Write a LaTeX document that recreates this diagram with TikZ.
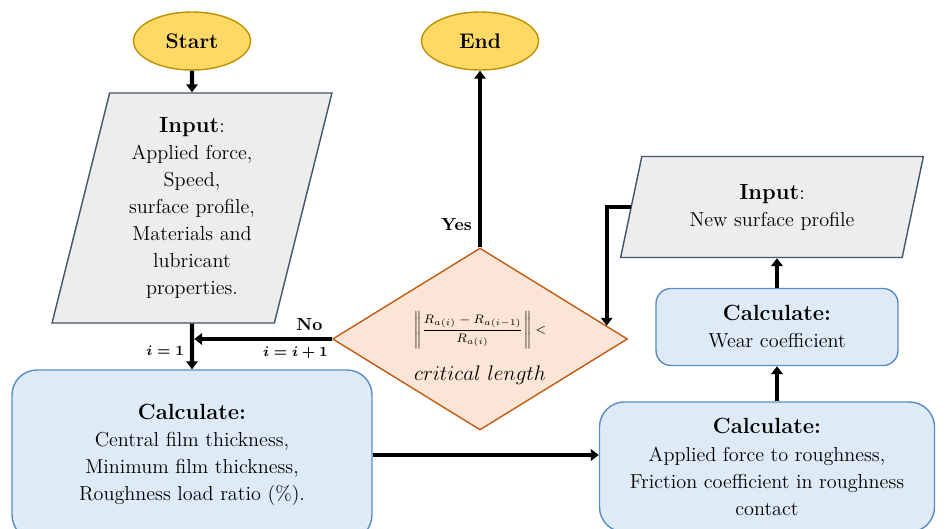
\documentclass[tikz,border=0pt]{standalone}
\usepackage{amsmath}
\usepackage{tikz}
\usetikzlibrary{shapes.geometric, arrows.meta}

\definecolor{termfill}{RGB}{255,217,102}
\definecolor{termline}{RGB}{191,144,0}
\definecolor{iofill}{RGB}{237,237,237}
\definecolor{ioline}{RGB}{68,84,106}
\definecolor{decfill}{RGB}{251,229,214}
\definecolor{decline}{RGB}{197,90,17}
\definecolor{procfill}{RGB}{222,235,247}
\definecolor{procline}{RGB}{91,140,200}

\newcommand{\boxtitle}[1]{{\fontsize{12.5}{15}\selectfont\bfseries #1}}

\tikzstyle{terminal} = [ellipse, draw=termline, fill=termfill, line width=0.8pt, minimum width=2.34cm, minimum height=1.16cm, font=\bfseries\fontsize{12}{14}\selectfont]
\tikzstyle{io} = [trapezium, trapezium left angle=76, trapezium right angle=104, trapezium stretches=true, draw=ioline, fill=iofill, line width=0.8pt, align=center, font=\fontsize{11.5}{15.4}\selectfont]
\tikzstyle{process} = [rectangle, rounded corners=0.5cm, draw=procline, fill=procfill, line width=0.8pt, align=center, font=\fontsize{11.5}{15.4}\selectfont]
\tikzstyle{decision} = [diamond, draw=decline, fill=decfill, line width=0.8pt, minimum width=5.9cm, minimum height=3.64cm]
\tikzstyle{arrow} = [line width=2.5pt, -{Triangle[length=4.5pt,width=6.5pt]}]
\tikzstyle{tag} = [font=\bfseries\boldmath\fontsize{10}{12}\selectfont]
\tikzstyle{mathtag} = [font=\bfseries\boldmath\fontsize{8.5}{10}\selectfont]

\begin{document}
\begin{tikzpicture}[x=0.2mm, y=-0.2mm]
    % page frame
    \clip (0, 0) rectangle (948, 529);

    % Start and end
    \node[terminal] (start) at (192, 41) {Start};
    \node[terminal] (end) at (480, 41) {End};

    % Input boxes
    \node[io, minimum width=5.6cm, minimum height=4.6cm] (in1) at (192, 208) {\boxtitle{Input}:\\ Applied force,\\ Speed,\\ surface profile,\\ Materials and\\ lubricant\\ properties.};
    \node[io, minimum width=6.06cm, minimum height=2.02cm] (in2) at (772, 207) {\boxtitle{Input}:\\ New surface profile};

    % Check on the roughness
    \node[decision] (dec) at (480, 339) {};
    \node (ratio) at (480, 330) {\fontsize{7}{8}\selectfont $\displaystyle\left\|\frac{R_{a(i)}-R_{a(i-1)}}{R_{a(i)}}\right\| <$};
    \node (crit) at (480, 375) {\fontsize{11.5}{13}\selectfont $critical\ length$};

    % Calculation steps
    \node[process, minimum width=7.2cm, minimum height=3.4cm] (calc1) at (192, 455) {\boxtitle{Calculate:}\\ Central film thickness,\\ Minimum film thickness,\\ Roughness load ratio (\%).};
    \node[process, minimum width=6.7cm, minimum height=2.6cm] (calc2) at (767, 467) {\boxtitle{Calculate:}\\ Applied force to roughness,\\ Friction coefficient in roughness\\ contact};
    \node[process, rounded corners=0.3cm, minimum width=4.84cm, minimum height=1.54cm] (wear) at (777, 327) {\boxtitle{Calculate:}\\ Wear coefficient};

    % Draw arrows between the nodes
    \coordinate (merge) at (in1.south |- dec.west);
    \draw[arrow] (start) -- (in1);
    \draw[arrow] (in1) -- node[mathtag, left, pos=0.6] {$i = 1$} (calc1);
    \draw[arrow, shorten >=1.25pt] (dec.west) -- node[tag, above, pos=0.16] {No} node[mathtag, below, pos=0.26] {$i = i + 1$} (merge);
    \draw[arrow] (dec) -- node[tag, left, pos=0.13] {Yes} (end);
    \draw[arrow] (calc1.east) -- (calc1.east -| calc2.west);
    \draw[arrow] (wear.south |- calc2.north) -- (wear);
    \draw[arrow] (wear) -- (wear.north |- in2.south);
    \draw[arrow] (in2.west) -| (dec.6);
\end{tikzpicture}
\end{document}
